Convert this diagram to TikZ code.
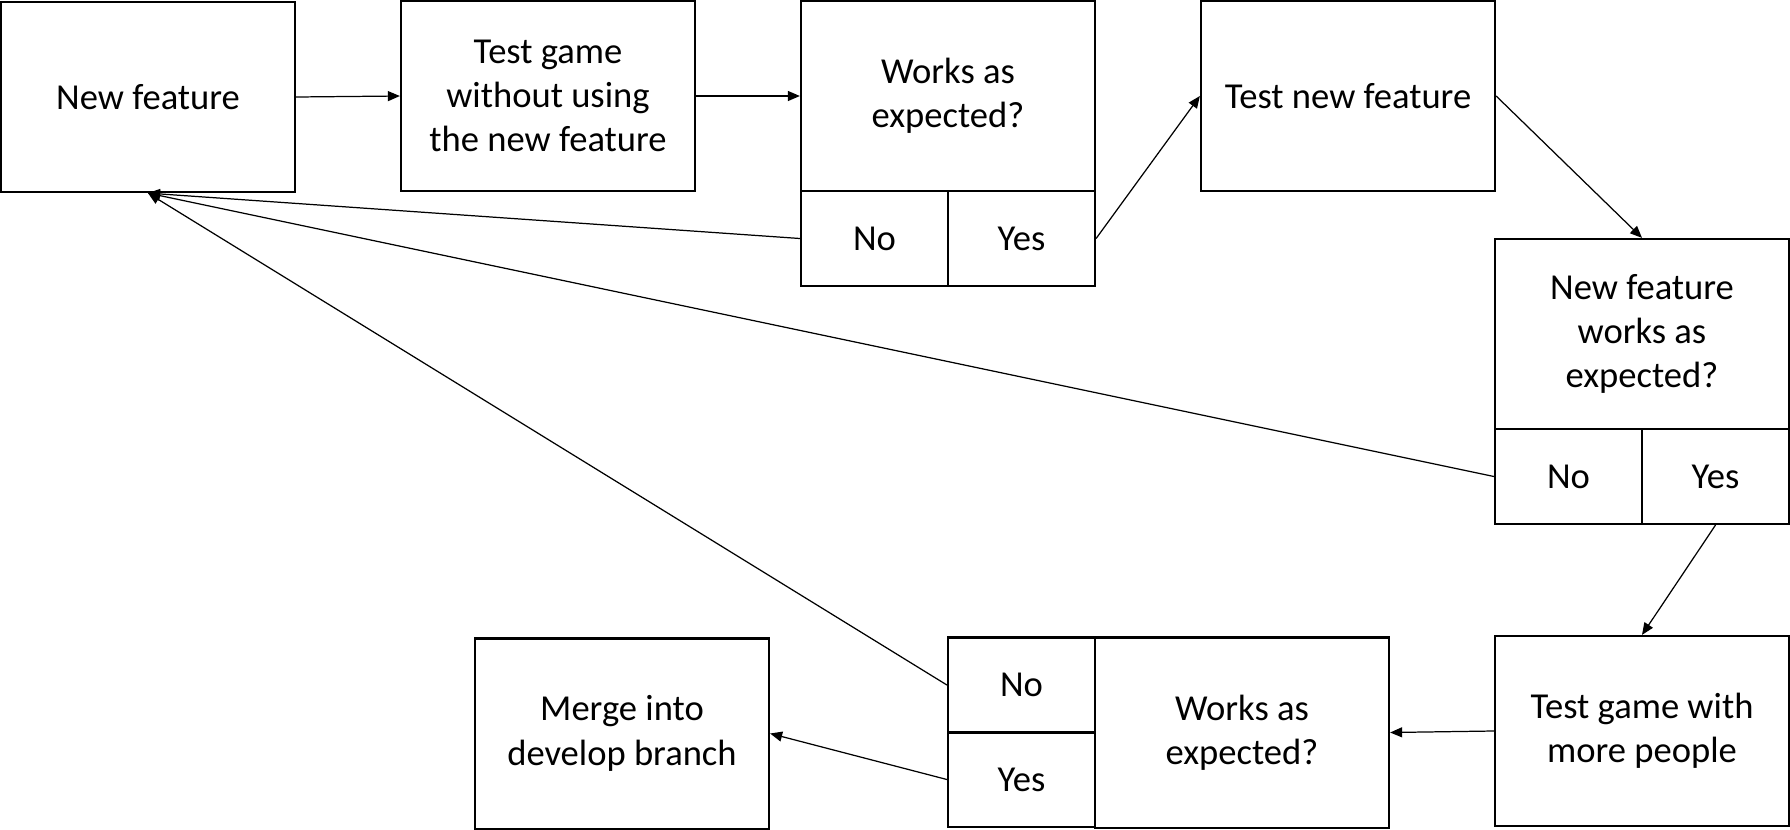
\documentclass[tikz,border=0pt]{standalone}
\usepackage{fontspec}
\setmainfont{Carlito}
\usetikzlibrary{arrows.meta}

\begin{document}
\begin{tikzpicture}[x=0.01cm,y=-0.01cm,
    every node/.style={font=\fontsize{10.4pt}{12.6pt}\selectfont},
    box/.style={draw,line width=0.6pt,inner sep=0pt,align=center,
                minimum width=2.94cm,minimum height=1.9cm},
    cell/.style={draw,line width=0.6pt,inner sep=0pt,align=center,
                 minimum width=1.47cm,minimum height=0.95cm},
    ar/.style={-{Triangle[length=1.2mm,width=1mm]},line width=0.35pt}]
  \fill[white] (0,0) rectangle (1790,830);
  \useasboundingbox (0,0) rectangle (1790,830);
  % top row
  \node[box] (feat) at (148,97) {New feature};
  \node[box] (game1) at (548,96) {Test game\\without using\\the new feature};
  \node[box] (q1) at (948,96) {Works as\\expected?};
  \node[cell] (q1no) at (874.5,238.5) {No};
  \node[cell] (q1yes) at (1021.5,238.5) {Yes};
  \node[box] (testnew) at (1348,96) {Test new feature};
  % right column
  \node[box] (q2) at (1642,334) {New feature\\works as\\expected?};
  \node[cell] (q2no) at (1568.5,476.5) {No};
  \node[cell] (q2yes) at (1715.5,476.5) {Yes};
  \node[box] (game2) at (1642,731) {Test game with\\more people};
  % bottom row
  \node[box] (q3) at (1242,732.5) {Works as\\expected?};
  \node[cell] (q3no) at (1021.5,685) {No};
  \node[cell] (q3yes) at (1021.5,779.5) {Yes};
  \node[box] (merge) at (622,733.5) {Merge into\\develop branch};
  % connectors
  \draw[ar] (feat.east) -- (game1.west);
  \draw[ar] (game1.east) -- (q1.west);
  \draw[ar] (q1yes.east) -- (testnew.west);
  \draw[ar] (testnew.east) -- (q2.north);
  \draw[ar] (q2yes.south) -- (game2.north);
  \draw[ar] (game2.west) -- (q3.east);
  \draw[ar] (q3yes.west) -- (merge.east);
  \draw[ar] (q1no.west) -- (feat.south);
  \draw[ar] (q2no.west) -- (feat.south);
  \draw[ar] (q3no.west) -- (feat.south);
\end{tikzpicture}
\end{document}
